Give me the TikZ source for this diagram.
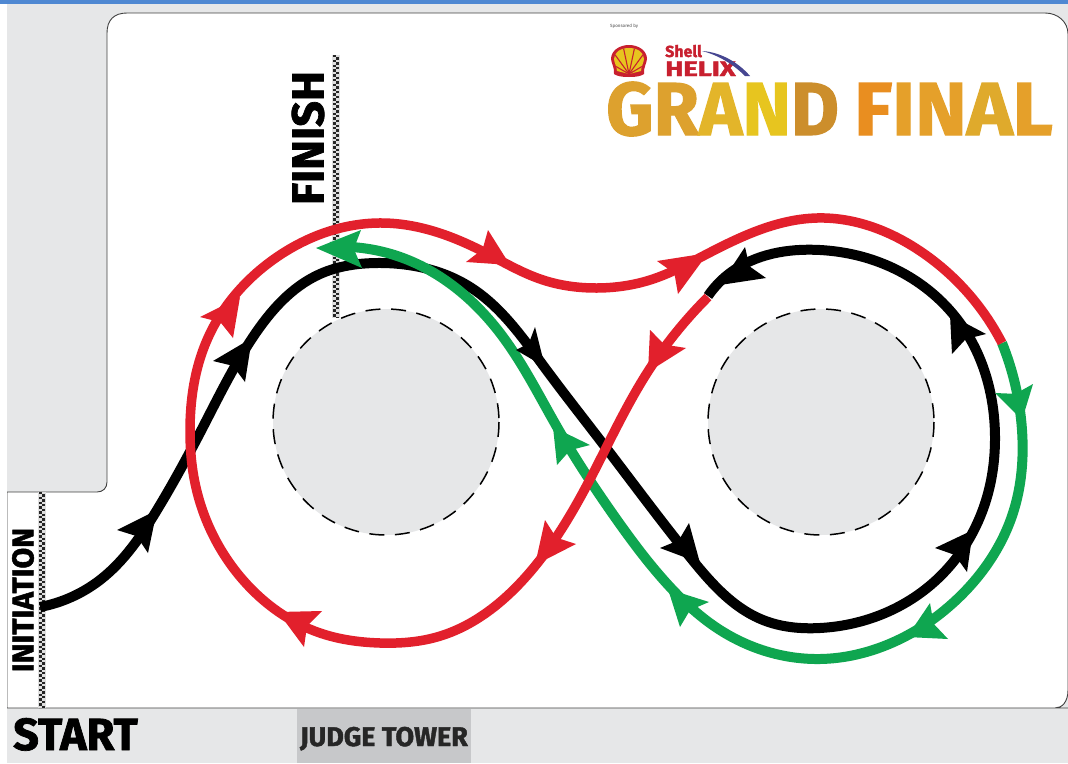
\documentclass[tikz,border=0pt]{standalone}
\usepackage{fontspec}
\setmainfont[BoldFeatures={FakeBold=1.6}]{Fira Sans}
\usetikzlibrary{calc,hobby}
\definecolor{paneG}{HTML}{E6E7E8}
\definecolor{towerG}{HTML}{C7C8CA}
\definecolor{barB}{HTML}{4F88D2}
\definecolor{trkR}{HTML}{E2202C}
\definecolor{trkG}{HTML}{0FA650}
\definecolor{logoR}{HTML}{C8202F}
\definecolor{goldA}{HTML}{DDA12E}
\definecolor{goldB}{HTML}{E3B52A}
\definecolor{goldC}{HTML}{E7C51F}
\definecolor{goldD}{HTML}{CC8E2C}
\definecolor{goldE}{HTML}{E98E20}
\definecolor{goldF}{HTML}{E5A02A}
\definecolor{goldG}{HTML}{DFAA2C}
\tikzset{
 track/.style={line width=#1,line join=round,use Hobby shortcut},
 lbl/.style={inner sep=0,text=black},
}
\newcommand{\ahd}[4]{\fill[#1] (#2) -- (#3) -- ($(#3)!.5!(#4)!.17!(#2)$) -- (#4) -- cycle;}
\newcommand{\chk}[3]{%
 \fill[white!75!gray] (#1-4,#2) rectangle (#1+4,#3);
 \draw[black!85,line width=3.2pt,dash pattern=on 2.4pt off 2.4pt] (#1-1.7,#2) -- (#1-1.7,#3);
 \draw[black!85,line width=3.2pt,dash pattern=on 2.4pt off 2.4pt,dash phase=2.4pt] (#1+1.7,#2) -- (#1+1.7,#3);}
\begin{document}
\begin{tikzpicture}[x=1pt,y=-1pt]
\useasboundingbox (0,0) rectangle (1068,763);
\fill[white] (0,0) rectangle (1068,763);
% background panels
\fill[paneG] (7,4) rectangle (1068,763);
\fill[white,draw=black!75,line width=.9pt] (1068,708) -- (1055,708) -- (7,708) -- (7,492) -- (97,492)
  .. controls (103,492) and (107,488) .. (107,482) -- (107,33)
  .. controls (107,20) and (114,13) .. (127,13) -- (1045,13)
  .. controls (1058,13) and (1068,22) .. (1068,34) -- (1068,690)
  .. controls (1068,702) and (1062,708) .. (1055,708);
\fill[white] (0,0) rectangle (7,763);
\fill[barB] (0,0) rectangle (1068,4);
\fill[towerG] (297,709) rectangle (471,763);
% circles
\foreach \cx in {386,821}{
 \fill[paneG] (\cx,422) circle[radius=113];
 \draw[black,line width=1.5pt,dash pattern=on 15pt off 10.6pt] (\cx,422) circle[radius=113];
}
% checker lines
\chk{42}{492}{708}
\chk{336}{55}{318}
% tracks
\draw[black,track=10pt] (40,607) .. (100,580) .. (157,510) .. (203,427) .. (253,337) .. (320,274) .. (377,263) .. (470,287) .. (545,368) .. (600,440) .. (690,557) .. (763,620) .. (820,628) .. (933,583) .. (987,497) .. (995,440) .. (960,323) .. (873,260) .. (820,250) .. (730,273) .. (708,296);
\draw[trkG,track=10pt] (1002,343) .. (1022,430) .. (1013,513) .. (953,603) .. (873,650) .. (820,659) .. (720,630) .. (670,587) .. (617,520) .. (557,427) .. (500,333) .. (403,258) .. (330,247);
\draw[trkR,track=9.5pt] (708,297) .. (647,373) .. (587,485) .. (523,580) .. (437,637) .. (380,643) .. (320,633) .. (243,580) .. (195,483) .. (190,430) .. (207,340) .. (277,257) .. (383,223) .. (480,250) .. (543,280) .. (597,288) .. (650,280) .. (707,254) .. (817,218) .. (923,253) .. (1002,343);
% arrowheads
\ahd{black}{157,510}{117,530}{148,553}
\ahd{black}{252,338}{213,361}{245,382}
\ahd{black}{545,367}{516,350}{535,327}
\ahd{black}{700,563}{660,548}{689,523}
\ahd{black}{973,530}{935,548}{967,572}
\ahd{black}{950,315}{986,334}{952,354}
\ahd{black}{720,285}{745,247}{766,278}
\ahd{trkR}{708,253}{657,261}{678,294}
\ahd{trkR}{648,372}{650,330}{686,348}
\ahd{trkR}{535,565}{545,520}{576,544}
\ahd{trkR}{278,612}{322,611}{304,647}
\ahd{trkR}{240,297}{200,317}{233,338}
\ahd{trkR}{510,265}{488,230}{466,262}
\ahd{trkG}{316,248}{361,230}{362,268}
\ahd{trkG}{553,427}{557,465}{590,445}
\ahd{trkG}{668,589}{680,627}{709,602}
\ahd{trkG}{907,637}{930,603}{948,639}
\ahd{trkG}{1022,420}{995,393}{1033,384}
% labels
\node[lbl,rotate=90,font=\bfseries\fontsize{45}{45}\selectfont] (finish) at (308,138) {FINISH};
\node[lbl,rotate=90,font=\bfseries\fontsize{30}{30}\selectfont] (initiation) at (23,600) {INITIATION};
\node[lbl,anchor=base west,font=\bfseries\fontsize{45}{45}\selectfont] (start) at (13,750) {START};
\node[lbl,anchor=base,font=\bfseries\fontsize{27}{27}\selectfont,text=black!85] (tower) at (384,746) {JUDGE TOWER};
\node[anchor=base west,inner sep=0,font=\fontsize{4.5}{5}\selectfont,text=black!70] (spons) at (610,27) {Sponsored by};
% logo
\fill[logoR] (629,77) .. controls (621,77) and (617,76) .. (614,74) .. controls (615,69) and (611,62) .. (611,59) .. controls (611,51) and (619,45) .. (629,45) .. controls (639,45) and (647,51) .. (647,59) .. controls (647,62) and (643,69) .. (644,74) .. controls (641,76) and (637,77) .. (629,77) -- cycle;
\begin{scope}
\clip (629,74) -- (617,71) .. controls (617,67) and (614,62) .. (614,59) .. controls (614,52) and (621,48) .. (629,48) .. controls (637,48) and (644,52) .. (644,59) .. controls (644,62) and (641,67) .. (641,71) -- cycle;
\fill[goldC] (605,40) rectangle (650,80);
\foreach \a in {-60,-36,-12,12,36,60}{\draw[logoR,line width=1.1pt] (629,74) -- ($(629,74)+(90+\a:-34)$);}
\end{scope}
\node[anchor=base west,inner sep=0,font=\bfseries\fontsize{16}{16}\selectfont,text=logoR] (shell) at (665,57) {Shell};
\node[anchor=base west,inner sep=0,font=\bfseries\fontsize{21}{21}\selectfont,text=logoR,xscale=1.3] (helix) at (665,76) {HELIX};
\fill[black!35!blue!45!gray] (702,51) .. controls (720,52) and (738,62) .. (750,76) -- (745,76) .. controls (733,64) and (718,55) .. (702,51) -- cycle;
\node[anchor=base west,inner sep=0,xscale=.98,font=\bfseries\fontsize{75}{75}\selectfont] (grand) at (606,135) {\textcolor{goldA}{G}\textcolor{goldA}{R}\textcolor{goldB}{A}\textcolor{goldC}{N}\textcolor{goldD}{D}};
\node[anchor=base west,inner sep=0,xscale=1.04,font=\bfseries\fontsize{75}{75}\selectfont] (final) at (854,135) {\textcolor{goldE}{F}\textcolor{goldF}{I}\textcolor{goldF}{N}\textcolor{goldG}{A}\textcolor{goldF}{L}};
\end{tikzpicture}
\end{document}
